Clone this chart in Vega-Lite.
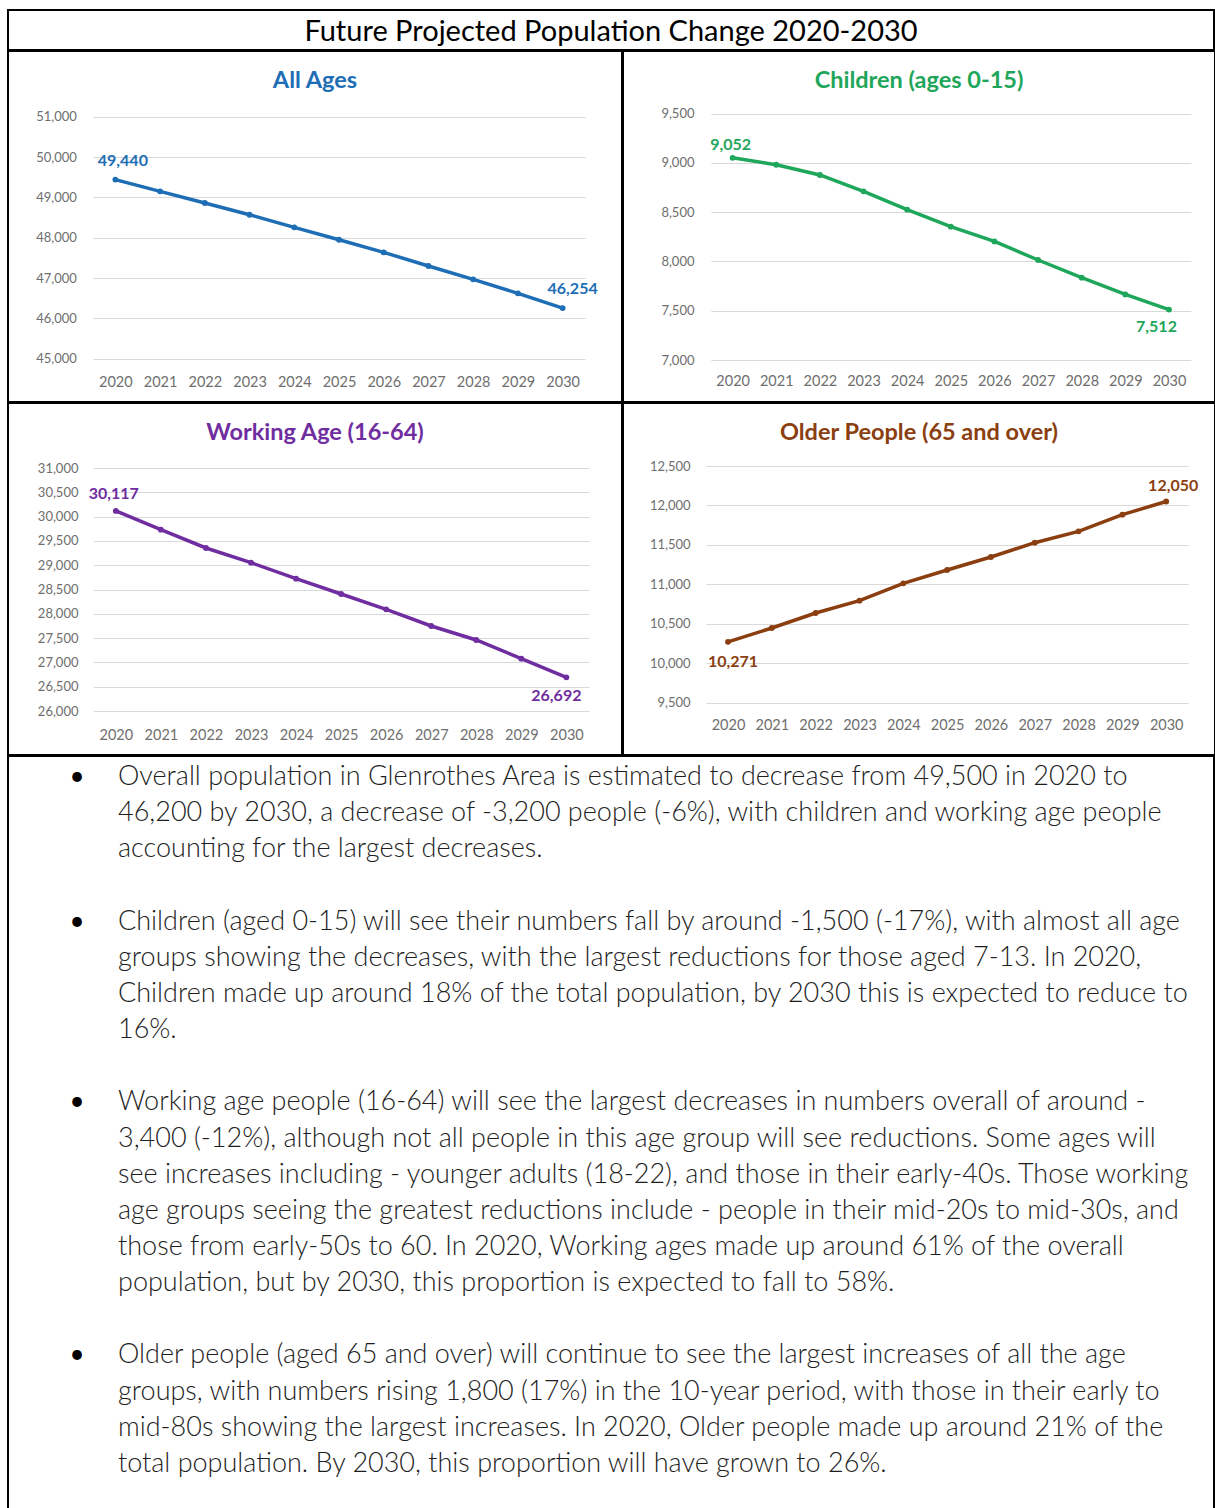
{
  "$schema": "https://vega.github.io/schema/vega-lite/v6.json",
  "padding": {"left": 7, "top": 9, "right": 0, "bottom": 0},
  "background": "white",
  "spacing": -2,
  "config": {
    "view": {"stroke": "black", "strokeWidth": 2},
    "font": "Lato",
    "axis": {"domain": false, "ticks": false, "tickSize": 0, "title": null, "labelFont": "Lato", "labelColor": "#6E6E6E", "gridColor": "#D9D9D9", "gridWidth": 1},
    "axisX": {"grid": false, "labelAngle": 0, "labelFontSize": 14.5, "labelBaseline": "middle", "labelPadding": 4},
    "axisY": {"grid": true, "labelFontSize": 13},
    "title": {"font": "Lato", "fontWeight": "bold", "fontSize": 23.5, "anchor": "middle", "offset": -41}
  },
  "datasets": {
    "pop": [
      {"g": "All", "year": 2020, "v": 49440}, {"g": "All", "year": 2021, "v": 49149}, {"g": "All", "year": 2022, "v": 48860}, {"g": "All", "year": 2023, "v": 48570}, {"g": "All", "year": 2024, "v": 48256}, {"g": "All", "year": 2025, "v": 47950}, {"g": "All", "year": 2026, "v": 47636}, {"g": "All", "year": 2027, "v": 47298}, {"g": "All", "year": 2028, "v": 46967}, {"g": "All", "year": 2029, "v": 46620}, {"g": "All", "year": 2030, "v": 46254},
      {"g": "Children", "year": 2020, "v": 9052}, {"g": "Children", "year": 2021, "v": 8982}, {"g": "Children", "year": 2022, "v": 8878}, {"g": "Children", "year": 2023, "v": 8712}, {"g": "Children", "year": 2024, "v": 8526}, {"g": "Children", "year": 2025, "v": 8353}, {"g": "Children", "year": 2026, "v": 8204}, {"g": "Children", "year": 2027, "v": 8015}, {"g": "Children", "year": 2028, "v": 7836}, {"g": "Children", "year": 2029, "v": 7666}, {"g": "Children", "year": 2030, "v": 7512},
      {"g": "Working", "year": 2020, "v": 30117}, {"g": "Working", "year": 2021, "v": 29731}, {"g": "Working", "year": 2022, "v": 29354}, {"g": "Working", "year": 2023, "v": 29052}, {"g": "Working", "year": 2024, "v": 28723}, {"g": "Working", "year": 2025, "v": 28407}, {"g": "Working", "year": 2026, "v": 28092}, {"g": "Working", "year": 2027, "v": 27749}, {"g": "Working", "year": 2028, "v": 27461}, {"g": "Working", "year": 2029, "v": 27077}, {"g": "Working", "year": 2030, "v": 26692},
      {"g": "Older", "year": 2020, "v": 10271}, {"g": "Older", "year": 2021, "v": 10447}, {"g": "Older", "year": 2022, "v": 10637}, {"g": "Older", "year": 2023, "v": 10793}, {"g": "Older", "year": 2024, "v": 11013}, {"g": "Older", "year": 2025, "v": 11182}, {"g": "Older", "year": 2026, "v": 11347}, {"g": "Older", "year": 2027, "v": 11528}, {"g": "Older", "year": 2028, "v": 11672}, {"g": "Older", "year": 2029, "v": 11883}, {"g": "Older", "year": 2030, "v": 12050}
    ],
    "lines": [
      {"row": 0, "first": true, "text": "Overall population in Glenrothes Area is estimated to decrease from 49,500 in 2020 to"},
      {"row": 1, "first": false, "text": "46,200 by 2030, a decrease of -3,200 people (-6%), with children and working age people"},
      {"row": 2, "first": false, "text": "accounting for the largest decreases."},
      {"row": 4, "first": true, "text": "Children (aged 0-15) will see their numbers fall by around -1,500 (-17%), with almost all age"},
      {"row": 5, "first": false, "text": "groups showing the decreases, with the largest reductions for those aged 7-13. In 2020,"},
      {"row": 6, "first": false, "text": "Children made up around 18% of the total population, by 2030 this is expected to reduce to"},
      {"row": 7, "first": false, "text": "16%."},
      {"row": 9, "first": true, "text": "Working age people (16-64) will see the largest decreases in numbers overall of around -"},
      {"row": 10, "first": false, "text": "3,400 (-12%), although not all people in this age group will see reductions. Some ages will"},
      {"row": 11, "first": false, "text": "see increases including - younger adults (18-22), and those in their early-40s. Those working"},
      {"row": 12, "first": false, "text": "age groups seeing the greatest reductions include - people in their mid-20s to mid-30s, and"},
      {"row": 13, "first": false, "text": "those from early-50s to 60. In 2020, Working ages made up around 61% of the overall"},
      {"row": 14, "first": false, "text": "population, but by 2030, this proportion is expected to fall to 58%."},
      {"row": 16, "first": true, "text": "Older people (aged 65 and over) will continue to see the largest increases of all the age"},
      {"row": 17, "first": false, "text": "groups, with numbers rising 1,800 (17%) in the 10-year period, with those in their early to"},
      {"row": 18, "first": false, "text": "mid-80s showing the largest increases. In 2020, Older people made up around 21% of the"},
      {"row": 19, "first": false, "text": "total population. By 2030, this proportion will have grown to 26%."}
    ]
  },
  "vconcat": [
    {
      "width": 1206, "height": 40,
      "data": {"values": [{"t": "Future Projected Population Change 2020-2030"}]},
      "mark": {"type": "text", "font": "Lato", "fontSize": 29, "color": "black", "baseline": "middle", "dy": 2},
      "encoding": {
        "y": {"field": "t", "type": "nominal", "axis": null},
        "text": {"field": "t"}
      }
    },
    {
      "spacing": -2,
      "hconcat": [
        {
          "width": 614, "height": 351,
          "title": {"text": "All Ages", "color": "#1E6EB5"},
          "data": {"name": "pop"},
          "transform": [{"filter": "datum.g === 'All'"}],
          "encoding": {
            "x": {"field": "year", "type": "ordinal", "scale": {"type": "point", "range": [85, 577], "padding": 0.5}, "axis": {"offset": -24}},
            "y": {"field": "v", "type": "quantitative", "scale": {"domain": [45000, 51000], "range": [307.7, 65.7], "zero": false, "nice": false}, "axis": {"values": [45000, 46000, 47000, 48000, 49000, 50000, 51000], "format": ",d", "offset": -85, "labelPadding": 16.7}}
          },
          "layer": [
            {"mark": {"type": "line", "color": "#1E6EB5", "strokeWidth": 3.5}},
            {"mark": {"type": "point", "filled": true, "opacity": 1, "color": "#1E6EB5", "size": 34}},
            {"transform": [{"filter": "datum.year === 2020"}], "mark": {"type": "text", "font": "Lato", "fontWeight": "bold", "fontSize": 16, "color": "#1E6EB5", "baseline": "middle", "dx": 7.5, "dy": -18.5}, "encoding": {"text": {"field": "v", "format": ","}}},
            {"transform": [{"filter": "datum.year === 2030"}], "mark": {"type": "text", "font": "Lato", "fontWeight": "bold", "fontSize": 16, "color": "#1E6EB5", "baseline": "middle", "dx": 10, "dy": -19.5}, "encoding": {"text": {"field": "v", "format": ","}}}
          ]
        },
        {
          "width": 592, "height": 351,
          "title": {"text": "Children (ages 0-15)", "color": "#1EA65A"},
          "data": {"name": "pop"},
          "transform": [{"filter": "datum.g === 'Children'"}],
          "encoding": {
            "x": {"field": "year", "type": "ordinal", "scale": {"type": "point", "range": [87.8, 567.8], "padding": 0.5}, "axis": {"offset": -25}},
            "y": {"field": "v", "type": "quantitative", "scale": {"domain": [7000, 9500], "range": [309, 62.7], "zero": false, "nice": false}, "axis": {"values": [7000, 7500, 8000, 8500, 9000, 9500], "format": ",d", "offset": -87.8, "labelPadding": 16.8}}
          },
          "layer": [
            {"mark": {"type": "line", "color": "#1EA65A", "strokeWidth": 3.5}},
            {"mark": {"type": "point", "filled": true, "opacity": 1, "color": "#1EA65A", "size": 34}},
            {"transform": [{"filter": "datum.year === 2020"}], "mark": {"type": "text", "font": "Lato", "fontWeight": "bold", "fontSize": 16, "color": "#1EA65A", "baseline": "middle", "dx": -2, "dy": -13}, "encoding": {"text": {"field": "v", "format": ","}}},
            {"transform": [{"filter": "datum.year === 2030"}], "mark": {"type": "text", "font": "Lato", "fontWeight": "bold", "fontSize": 16, "color": "#1EA65A", "baseline": "middle", "dx": -12.5, "dy": 17.5}, "encoding": {"text": {"field": "v", "format": ","}}}
          ]
        }
      ]
    },
    {
      "spacing": -2,
      "hconcat": [
        {
          "width": 614, "height": 352,
          "title": {"text": "Working Age (16-64)", "color": "#6F2DA0"},
          "data": {"name": "pop"},
          "transform": [{"filter": "datum.g === 'Working'"}],
          "encoding": {
            "x": {"field": "year", "type": "ordinal", "scale": {"type": "point", "range": [85.3, 580.9], "padding": 0.5}, "axis": {"offset": -24}},
            "y": {"field": "v", "type": "quantitative", "scale": {"domain": [26000, 31000], "range": [308, 65], "zero": false, "nice": false}, "axis": {"values": [26000, 26500, 27000, 27500, 28000, 28500, 29000, 29500, 30000, 30500, 31000], "format": ",d", "offset": -85.3, "labelPadding": 15.3}}
          },
          "layer": [
            {"mark": {"type": "line", "color": "#6F2DA0", "strokeWidth": 3.5}},
            {"mark": {"type": "point", "filled": true, "opacity": 1, "color": "#6F2DA0", "size": 34}},
            {"transform": [{"filter": "datum.year === 2020"}], "mark": {"type": "text", "font": "Lato", "fontWeight": "bold", "fontSize": 16, "color": "#6F2DA0", "baseline": "middle", "dx": -2, "dy": -17}, "encoding": {"text": {"field": "v", "format": ","}}},
            {"transform": [{"filter": "datum.year === 2030"}], "mark": {"type": "text", "font": "Lato", "fontWeight": "bold", "fontSize": 16, "color": "#6F2DA0", "baseline": "middle", "dx": -10, "dy": 19}, "encoding": {"text": {"field": "v", "format": ","}}}
          ]
        },
        {
          "width": 592, "height": 352,
          "title": {"text": "Older People (65 and over)", "color": "#8B3F10"},
          "data": {"name": "pop"},
          "transform": [{"filter": "datum.g === 'Older'"}],
          "encoding": {
            "x": {"field": "year", "type": "ordinal", "scale": {"type": "point", "range": [83.1, 565.1], "padding": 0.5}, "axis": {"offset": -34}},
            "y": {"field": "v", "type": "quantitative", "scale": {"domain": [9500, 12500], "range": [299.7, 63], "zero": false, "nice": false}, "axis": {"values": [9500, 10000, 10500, 11000, 11500, 12000, 12500], "format": ",d", "offset": -83.1, "labelPadding": 16}}
          },
          "layer": [
            {"mark": {"type": "line", "color": "#8B3F10", "strokeWidth": 3.5}},
            {"mark": {"type": "point", "filled": true, "opacity": 1, "color": "#8B3F10", "size": 34}},
            {"transform": [{"filter": "datum.year === 2020"}], "mark": {"type": "text", "font": "Lato", "fontWeight": "bold", "fontSize": 16, "color": "#8B3F10", "baseline": "middle", "dx": 5, "dy": 20}, "encoding": {"text": {"field": "v", "format": ","}}},
            {"transform": [{"filter": "datum.year === 2030"}], "mark": {"type": "text", "font": "Lato", "fontWeight": "bold", "fontSize": 16, "color": "#8B3F10", "baseline": "middle", "dx": 7, "dy": -16}, "encoding": {"text": {"field": "v", "format": ","}}}
          ]
        }
      ]
    },
    {
      "width": 1206, "height": 753,
      "data": {"name": "lines"},
      "encoding": {
        "y": {"field": "row", "type": "quantitative", "scale": {"domain": [0, 19], "range": [21, 707.9]}, "axis": null}
      },
      "layer": [
        {"mark": {"type": "text", "align": "left", "baseline": "middle", "font": "Lato", "fontWeight": 300, "fontSize": 27, "color": "#1E1E1E"}, "encoding": {"x": {"value": 110}, "text": {"field": "text"}}},
        {"transform": [{"filter": "datum.first"}], "mark": {"type": "text", "align": "center", "baseline": "middle", "font": "Lato", "fontSize": 26, "color": "black", "text": "•"}, "encoding": {"x": {"value": 69}}}
      ]
    }
  ]
}
